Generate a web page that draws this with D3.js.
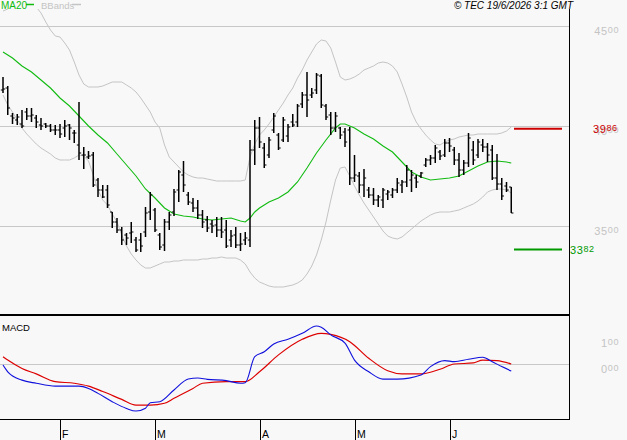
<!DOCTYPE html>
<html>
<head>
<meta charset="utf-8">
<script src="https://cdn.jsdelivr.net/npm/d3@7"></script>
<style>
  body { margin: 0; background: #f8f8f8; }
  svg { display: block; font-family: "Liberation Sans", Arial, sans-serif; }
</style>
</head>
<body>
<div id="chart"></div>
<script>
//***************** data *******************/
// daily bars, index 0 = mid January, last = 18 June
var high = [4245,4200,4065,4060,4080,4090,4090,4055,4040,4015,4010,4005,4010,4030,4010,3980,4120,3895,3875,3870,
  3740,3705,3705,3570,3540,3495,3465,3520,3445,3465,3595,3670,3590,3465,3535,3570,3685,3780,3825,3670,
  3640,3630,3580,3550,3530,3545,3545,3530,3480,3495,3465,3470,3930,4030,4045,3915,3945,4065,3965,4045,
  4010,4060,4110,4170,4270,4190,4265,4260,4110,4070,4070,3995,3990,3995,3855,3770,3785,3695,3690,3655,
  3690,3680,3690,3740,3730,3805,3780,3755,3770,3840,3855,3905,3880,3935,3940,3895,3865,3830,3965,3925,
  3935,3935,3915,3905,3860,3740,3720,3695];
var low = [4165,4055,4010,4005,3990,4030,4020,3990,3980,3990,3970,3955,3940,3945,3930,3915,3830,3785,3835,3695,
  3645,3640,3590,3490,3465,3405,3405,3415,3370,3370,3445,3530,3470,3380,3375,3480,3550,3620,3670,3605,
  3570,3535,3490,3470,3465,3445,3440,3390,3395,3390,3375,3405,3395,3805,3890,3790,3840,3965,3880,3920,
  3920,3995,3995,4090,4045,4140,4160,4090,4030,3955,3970,3935,3895,3705,3720,3665,3645,3640,3605,3595,
  3590,3630,3640,3665,3665,3695,3670,3690,3740,3795,3805,3815,3830,3845,3870,3805,3745,3755,3795,3805,
  3840,3870,3820,3730,3680,3630,3670,3565];
var open = [4180,4190,4050,4030,4010,4070,4050,4040,4005,4010,4000,3980,3980,3990,4005,3965,3905,3855,3845,3855,
  3730,3680,3680,3570,3520,3480,3455,3465,3430,3430,3470,3570,3580,3455,3405,3520,3570,3680,3755,3655,
  3615,3590,3555,3530,3510,3505,3480,3480,3430,3455,3405,3430,3430,3880,3990,3890,3855,3980,3955,3930,
  3950,4020,4020,4110,4155,4155,4180,4250,4100,4055,3990,3990,3970,3980,3740,3750,3705,3680,3655,3630,
  3630,3660,3655,3680,3705,3720,3730,3740,3750,3805,3830,3840,3870,3855,3915,3880,3830,3780,3815,3880,
  3855,3905,3895,3880,3740,3710,3700,3695];
var close = [4185,4090,4040,4045,4000,4050,4055,4020,4000,4000,3980,3980,3960,4000,3990,3965,3865,3855,3850,3705,
  3680,3645,3605,3520,3480,3430,3440,3470,3380,3400,3565,3655,3480,3395,3520,3555,3670,3770,3705,3620,
  3590,3555,3520,3490,3500,3480,3470,3400,3450,3405,3410,3440,3880,3990,3920,3805,3930,4050,3890,4030,
  3995,4005,4100,4155,4130,4165,4255,4105,4045,3990,4050,3955,3920,3740,3755,3705,3740,3655,3630,3645,
  3680,3670,3680,3715,3720,3780,3755,3720,3765,3830,3840,3890,3850,3915,3900,3830,3780,3815,3940,3830,
  3920,3895,3855,3740,3710,3650,3680,3565];

// moving average 20 (read every other bar)
var maIdx = [0,2,4,6,8,10,12,14,16,18,20,22,24,26,28,30,32,34,36,38,40,42,44,46,48,50,51,52,53,54,
  56,58,60,62,64,66,68,70,71,72,73,74,76,78,80,82,84,86,88,90,92,94,96,98,100,102,104,106,107];
var maVal = [4370,4340,4300,4270,4230,4190,4140,4100,4050,4000,3955,3915,3860,3805,3750,3685,3640,3590,3560,3550,
  3545,3535,3530,3535,3540,3525,3520,3540,3570,3590,3620,3640,3670,3720,3790,3865,3930,3990,4010,4010,
  4000,3990,3960,3935,3900,3870,3820,3770,3745,3730,3735,3740,3750,3775,3800,3820,3825,3820,3815];

// bollinger bands
var upper = [4575,4585,4600,4610,4615,4620,4615,4595,4565,4520,4480,4450,4445,4415,4380,4320,4255,4210,4195,4195,
  4195,4200,4210,4220,4220,4220,4205,4190,4170,4140,4105,4070,4020,3990,3905,3845,3820,3795,3770,3755,
  3745,3740,3740,3735,3730,3725,3725,3725,3725,3725,3725,3730,3845,3910,3955,3980,4010,4045,4080,4115,
  4155,4190,4240,4280,4330,4370,4410,4430,4425,4390,4320,4245,4230,4235,4245,4260,4280,4290,4300,4315,
  4320,4315,4300,4270,4210,4145,4070,4020,3985,3955,3930,3910,3905,3920,3930,3935,3945,3950,3955,3955,
  3960,3960,3960,3960,3960,3965,3975,3995];
var lower = [4155,4105,4070,4030,3990,3960,3935,3910,3890,3875,3860,3840,3830,3830,3830,3840,3855,3850,3825,3755,
  3680,3630,3605,3560,3520,3455,3400,3360,3330,3305,3290,3290,3300,3310,3320,3320,3325,3325,3330,3330,
  3330,3330,3335,3335,3340,3340,3345,3340,3340,3340,3330,3310,3270,3240,3220,3210,3200,3195,3195,3195,
  3200,3205,3215,3230,3260,3300,3355,3430,3520,3630,3730,3790,3795,3750,3700,3655,3615,3580,3545,3510,
  3475,3450,3440,3435,3445,3465,3485,3505,3525,3540,3555,3565,3570,3570,3570,3575,3580,3590,3600,3610,
  3625,3645,3670,3680,3685,3685,3680,3665];

// macd panel
var macdIdx = [0,1,4,7,11,16,18,20,23,26,28,30,31,33,36,39,41,43,47,50,51,53,55,57,60,63,66,67,69,72,
  74,77,80,83,88,90,93,95,98,101,103,105,107];
var macdVal = [-4,-30,-62,-74,-85,-85,-94,-113,-145,-171,-181,-170,-149,-145,-100,-58,-54,-59,-64,-74,
  -72,28,47,77,95,118,146,141,112,80,15,-30,-58,-58,-42,-10,13,9,18,26,9,-10,-27];
var sigIdx = [0,1,4,7,11,15,18,21,25,28,31,34,36,40,42,47,51,54,58,63,67,69,73,77,81,84,88,92,95,99,101,104,107];
var sigVal = [28,15,-17,-38,-68,-74,-85,-106,-136,-158,-158,-151,-132,-94,-74,-68,-68,-30,35,95,
  118,114,86,22,-26,-38,-38,-20,0,4,15,13,0];

// ticks and levels
var priceTicks = [4500, 4000, 3500];
var macdTicks = [100, 0];
var months = ["F", "M", "A", "M", "J"];
var monthStart = [12, 32, 54, 74, 94];
var levels = [3986, 3382];
var levelColors = ["#cc0000", "#009900"];

//************* set dimensions ***************/
var W = 627, H = 440;
var axisX = 569;
var priceTop = 9, priceBot = 314, macdTop = 316, macdBot = 419;

var svg = d3.select("#chart").append("svg")
    .attr("width", W)
    .attr("height", H);

svg.append("rect").attr("width", W).attr("height", H).attr("fill", "#f8f8f8");

//***************** scales *******************/
var x = d3.scaleLinear().domain([0, 107]).range([3, 511.25]);
var y = d3.scaleLinear().domain([3500, 4500]).range([226, 26]);
var ym = d3.scaleLinear().domain([0, 100]).range([364, 338]);

var defs = svg.append("defs");
defs.append("clipPath").attr("id", "clipP").append("rect")
    .attr("x", 0).attr("y", priceTop).attr("width", axisX).attr("height", priceBot - priceTop);
defs.append("clipPath").attr("id", "clipM").append("rect")
    .attr("x", 0).attr("y", macdTop).attr("width", axisX).attr("height", macdBot - macdTop);

// split label: big digits + raised last two digits
function tickLabel(g, v, xPos, yBase, color, anchor) {
  var s = String(v);
  if (s.length < 3) s = ("000" + s).slice(-3);
  var t = g.append("text")
      .attr("x", xPos).attr("y", yBase)
      .attr("text-anchor", anchor || "end")
      .attr("letter-spacing", "0.6px")
      .attr("fill", color);
  t.append("tspan").attr("font-size", "11px").text(s.slice(0, -2));
  t.append("tspan").attr("font-size", "9px").attr("dy", -2).text(s.slice(-2));
}

//***************** gridlines *******************/
var grid = svg.append("g").attr("shape-rendering", "crispEdges");
grid.selectAll("line.pg").data(priceTicks).enter().append("line")
    .attr("x1", 0).attr("x2", axisX)
    .attr("y1", function(d) { return y(d) + 0.5; })
    .attr("y2", function(d) { return y(d) + 0.5; })
    .attr("stroke", "#c8c8c8");
grid.append("line")
    .attr("x1", 0).attr("x2", axisX)
    .attr("y1", ym(0) + 0.5).attr("y2", ym(0) + 0.5)
    .attr("stroke", "#c8c8c8");

var labels = svg.append("g");
priceTicks.forEach(function(v) { tickLabel(labels, v, 619, y(v) + 9, "#c4c4c4"); });
macdTicks.forEach(function(v) { tickLabel(labels, v, 619, ym(v) + 9, "#c4c4c4"); });

//***************** price panel *******************/
var pp = svg.append("g").attr("clip-path", "url(#clipP)");
var idx = d3.range(high.length);

var bandLine = d3.line()
    .x(function(d) { return x(d[0]); })
    .y(function(d) { return y(d[1]); });

pp.append("path").datum(d3.zip(idx, upper))
    .attr("d", bandLine).attr("fill", "none").attr("stroke", "#c4c4c4").attr("stroke-width", 1);
pp.append("path").datum(d3.zip(idx, lower))
    .attr("d", bandLine).attr("fill", "none").attr("stroke", "#c4c4c4").attr("stroke-width", 1);
pp.append("path").datum(d3.zip(maIdx, maVal))
    .attr("d", bandLine).attr("fill", "none").attr("stroke", "#11bb11").attr("stroke-width", 1.1);

var bars = pp.selectAll("g.bar").data(idx).enter().append("g").attr("class", "bar")
    .attr("stroke", "#000");
bars.append("line")
    .attr("x1", function(i) { return x(i); }).attr("x2", function(i) { return x(i); })
    .attr("y1", function(i) { return y(high[i]); })
    .attr("y2", function(i) { return y(low[i]); })
    .attr("stroke-width", 1.5);
bars.append("line")
    .attr("x1", function(i) { return x(i) - 2.2; }).attr("x2", function(i) { return x(i); })
    .attr("y1", function(i) { return y(open[i]); })
    .attr("y2", function(i) { return y(open[i]); })
    .attr("stroke-width", 1);
bars.append("line")
    .attr("x1", function(i) { return x(i); }).attr("x2", function(i) { return x(i) + 2.2; })
    .attr("y1", function(i) { return y(close[i]); })
    .attr("y2", function(i) { return y(close[i]); })
    .attr("stroke-width", 1);

// level lines on the right
svg.selectAll("line.lvl").data(levels).enter().append("line")
    .attr("x1", 514).attr("x2", 562)
    .attr("y1", function(d) { return y(d); })
    .attr("y2", function(d) { return y(d); })
    .attr("stroke", function(d, i) { return levelColors[i]; })
    .attr("stroke-width", 2);
tickLabel(labels, levels[0], 593, y(levels[0]) + 4.5, levelColors[0], "start");
tickLabel(labels, levels[1], 570, y(levels[1]) + 4.5, levelColors[1], "start");

//***************** macd panel *******************/
var mp = svg.append("g").attr("clip-path", "url(#clipM)");
var mLine = d3.line()
    .x(function(d) { return x(d[0]); })
    .y(function(d) { return ym(d[1]); })
    .curve(d3.curveMonotoneX);
mp.append("path").datum(d3.zip(sigIdx, sigVal))
    .attr("d", mLine).attr("fill", "none").attr("stroke", "#dd0000").attr("stroke-width", 1.2);
mp.append("path").datum(d3.zip(macdIdx, macdVal))
    .attr("d", mLine).attr("fill", "none").attr("stroke", "#1010dd").attr("stroke-width", 1.1);

//***************** frame *******************/
var frame = svg.append("g").attr("stroke", "#000").attr("shape-rendering", "crispEdges");
frame.append("line").attr("x1", axisX + 0.5).attr("x2", axisX + 0.5).attr("y1", priceTop).attr("y2", macdBot + 1);
frame.append("line").attr("x1", 0).attr("x2", axisX + 1).attr("y1", 315).attr("y2", 315).attr("stroke-width", 2);
frame.append("line").attr("x1", 0).attr("x2", axisX + 1).attr("y1", macdBot + 0.5).attr("y2", macdBot + 0.5);

// month ticks
frame.selectAll("line.mt").data(monthStart).enter().append("line")
    .attr("x1", function(d) { return Math.round(x(d)) + 0.5; })
    .attr("x2", function(d) { return Math.round(x(d)) + 0.5; })
    .attr("y1", macdBot).attr("y2", H);
svg.selectAll("text.mon").data(months).enter().append("text")
    .attr("x", function(d, i) { return Math.round(x(monthStart[i])) + 2; })
    .attr("y", 437.5)
    .attr("font-size", "10.5px")
    .attr("fill", "#000")
    .text(function(d) { return d; });

//***************** legend / title *******************/
svg.append("text").attr("x", 1).attr("y", 9).attr("font-size", "10px").attr("fill", "#11bb11").text("MA20");
svg.append("line").attr("x1", 26).attr("x2", 34).attr("y1", 4.5).attr("y2", 4.5)
    .attr("stroke", "#11bb11").attr("stroke-width", 1.5);
svg.append("text").attr("x", 41).attr("y", 9).attr("font-size", "9.5px").attr("fill", "#c4c4c4").text("BBands");
svg.append("line").attr("x1", 72).attr("x2", 81).attr("y1", 4.5).attr("y2", 4.5)
    .attr("stroke", "#c4c4c4").attr("stroke-width", 1.5);

svg.append("text").attr("x", 573).attr("y", 9)
    .attr("text-anchor", "end")
    .attr("font-size", "10px")
    .attr("font-style", "italic")
    .attr("fill", "#000")
    .text("\u00a9 TEC 19/6/2026 3:1 GMT");

svg.append("text").attr("x", 2).attr("y", 331).attr("font-size", "9.5px").attr("fill", "#000").text("MACD");
</script>
</body>
</html>
